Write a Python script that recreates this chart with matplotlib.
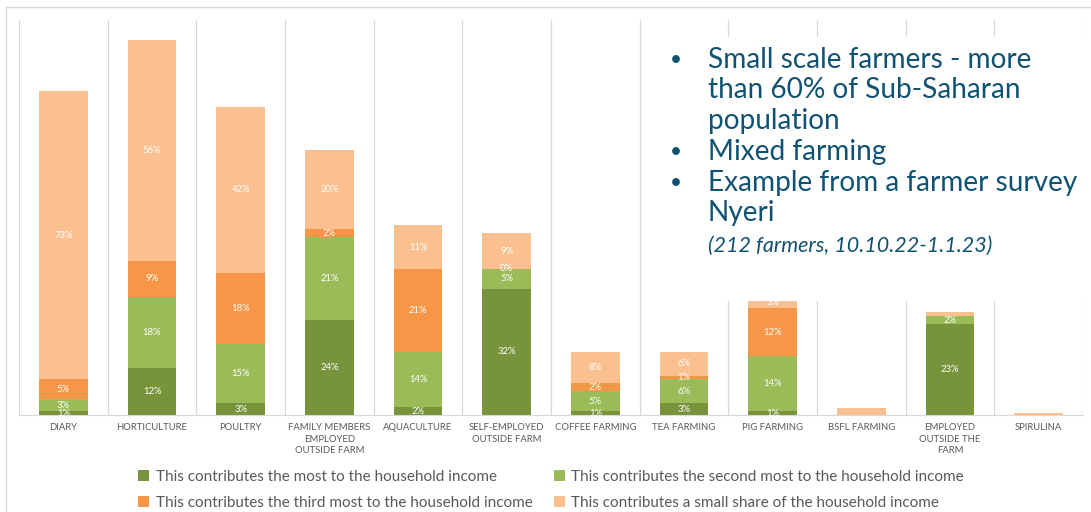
import numpy as np
import matplotlib
matplotlib.use('Agg')
import matplotlib.pyplot as plt
from matplotlib.patches import Rectangle
from matplotlib.lines import Line2D

plt.rcParams['font.family'] = ['Lato', 'DejaVu Sans']

categories = ['DIARY', 'HORTICULTURE', 'POULTRY', 'FAMILY MEMBERS\nEMPLOYED\nOUTSIDE FARM',
              'AQUACULTURE', 'SELF-EMPLOYED\nOUTSIDE FARM', 'COFFEE FARMING', 'TEA FARMING',
              'PIG FARMING', 'BSFL FARMING', 'EMPLOYED\nOUTSIDE THE\nFARM', 'SPIRULINA']

series_names = ['This contributes the most to the household income',
                'This contributes the second most to the household income',
                'This contributes the third most to the household income',
                'This contributes a small share of the household income']

most = [1, 12, 3, 24, 2, 32, 1, 3, 1, 0, 23, 0]
second = [3, 18, 15, 21, 14, 5, 5, 6, 14, 0, 2, 0]
third = [5, 9, 18, 2, 21, 0, 2, 1, 12, 0, 0, 0]
small = [73, 56, 42, 20, 11, 9, 8, 6, 3, 1.8, 1, 0.4]

most_lbl = ['1%', '12%', '3%', '24%', '2%', '32%', '1%', '3%', '1%', '', '23%', '']
second_lbl = ['3%', '18%', '15%', '21%', '14%', '5%', '5%', '6%', '14%', '', '2%', '']
third_lbl = ['5%', '9%', '18%', '2%', '21%', '0%', '2%', '1%', '12%', '', '', '']
small_lbl = ['73%', '56%', '42%', '20%', '11%', '9%', '8%', '6%', '3%', '', '', '']

colors = ['#77933C', '#9BBB59', '#F79646', '#FAC090']

fig = plt.figure(figsize=(10.91, 5.12), dpi=100)
ax = fig.add_axes([19/1091, 97/512, 1064/1091, 395/512])

x = np.arange(len(categories))
bottom = np.zeros(len(categories))
handles = []
for vals, lbls, col, name in zip([most, second, third, small],
                                 [most_lbl, second_lbl, third_lbl, small_lbl],
                                 colors, series_names):
    bars = ax.bar(x, vals, 0.55, bottom=bottom, color=col, label=name, zorder=2)
    ax.bar_label(bars, labels=lbls, label_type='center', color='white', fontsize=6.8)
    bottom += np.array(vals)
    handles.append(bars)

ax.set_xlim(-0.5, len(categories) - 0.5)
ax.set_ylim(0, 100)
for xs in np.arange(-0.5, len(categories), 1.0):
    ax.axvline(xs, color='#D9D9D9', lw=0.9, zorder=1)
for s in ['top', 'right', 'left']:
    ax.spines[s].set_visible(False)
ax.spines['bottom'].set_color('#D9D9D9')
ax.set_yticks([])
ax.set_xticks(x)
ax.set_xticklabels(categories, fontsize=6.8, color='#595959', linespacing=1.35)
ax.tick_params(axis='x', length=0, pad=6)

# outer frame
fig.add_artist(Line2D([6/1091, 1], [1 - 7/512, 1 - 7/512], color='#D9D9D9', lw=1))
fig.add_artist(Line2D([6/1091, 6/1091], [0, 1 - 7/512], color='#D9D9D9', lw=1))

# white text box over the chart
fig.add_artist(Rectangle((645/1091, 1 - 301/512), 1 - 645/1091, (301 - 37)/512,
                         facecolor='white', edgecolor='none', zorder=5))
tc = '#0F5273'
lines = [('•', 'Small scale farmers - more', 60), (None, 'than 60% of Sub-Saharan', 90),
         (None, 'population', 121), ('•', 'Mixed farming', 152),
         ('•', 'Example from a farmer survey', 183), (None, 'Nyeri', 213)]
for bullet, txt, yp in lines:
    if bullet:
        fig.text(670/1091, 1 - yp/512, bullet, fontsize=15, color=tc, va='center', zorder=6)
    fig.text(708/1091, 1 - yp/512, txt, fontsize=20.2, color=tc, va='center', zorder=6)
fig.text(708/1091, 1 - 246/512, '(212 farmers, 10.10.22-1.1.23)', fontsize=15.5,
         style='italic', color=tc, va='center', zorder=6)

order = [handles[0], handles[2], handles[1], handles[3]]
fig.legend(order, [h.get_label() for h in order], ncol=2, loc='center',
           bbox_to_anchor=(0.505, 0.043), frameon=False, fontsize=11,
           labelcolor='#595959', handlelength=0.75, handleheight=0.75,
           handletextpad=0.4, columnspacing=1.4, labelspacing=0.8)

plt.savefig('out.png', dpi=100)
